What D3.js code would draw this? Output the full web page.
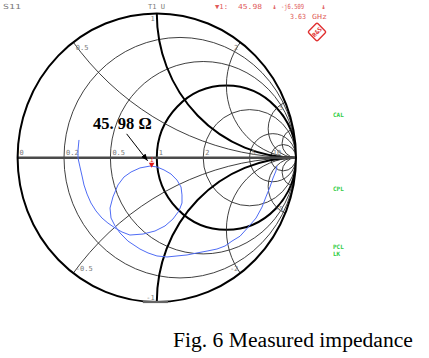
<!DOCTYPE html>
<html>
<head>
<meta charset="utf-8">
<script src="https://cdn.jsdelivr.net/npm/d3@7"></script>
<style>
  body { margin: 0; background: #fff; }
  svg { display: block; }
  .mono { font-family: "DejaVu Sans Mono", "Liberation Mono", monospace; }
  .serif { font-family: "Liberation Serif", "Times New Roman", serif; }
</style>
</head>
<body>
<div id="chart"></div>
<script>
(function() {

  // grid values
  var gridR = [0.2, 0.5, 1, 2, 5, 10];
  var gridX = [0.5, 1, 2, 5, 10, -0.5, -1, -2, -5, -10];
  var rLabelVals = [0, 0.2, 0.5, 1, 2, 5, 10];
  var rLabels = ["0", "0.2", "0.5", "1", "2", "5", "10"];
  var xLabelVals = [0.5, 1, 2, 5, -0.5, -1, -2, -5];
  var xLabels = ["0.5", "1", "2", "5", "-0.5", "-1", "-2", "-5"];

  // measured S11 trace (reflection coefficient, re / im)
  var traceRe = [-0.559, -0.566, -0.566, -0.552, -0.537, -0.523, -0.501, -0.473, -0.437, -0.394,
    -0.351, -0.300, -0.250, -0.193, -0.099, -0.013, 0.059, 0.116, 0.159, 0.181,
    0.181, 0.174, 0.145, 0.102, 0.052, 0.001, -0.049, -0.121, -0.185, -0.236,
    -0.279, -0.315, -0.336, -0.329, -0.300, -0.264, -0.207, -0.121, -0.063, 0.001,
    0.073, 0.145, 0.217, 0.289, 0.361, 0.432, 0.490, 0.540, 0.598, 0.655,
    0.713, 0.756, 0.784, 0.813, 0.835, 0.856, 0.863];
  var traceIm = [0.123, 0.053, -0.002, -0.064, -0.127, -0.189, -0.252, -0.314, -0.369, -0.418,
    -0.453, -0.487, -0.515, -0.536, -0.529, -0.508, -0.473, -0.425, -0.369, -0.314,
    -0.258, -0.203, -0.155, -0.113, -0.085, -0.064, -0.058, -0.071, -0.099, -0.134,
    -0.189, -0.272, -0.349, -0.418, -0.473, -0.522, -0.578, -0.633, -0.660, -0.681,
    -0.688, -0.681, -0.674, -0.660, -0.647, -0.633, -0.612, -0.578, -0.544, -0.483,
    -0.418, -0.342, -0.272, -0.203, -0.141, -0.092, -0.058];

  // marker 1
  var z0 = 50;
  var markerR = 45.98;
  var markerX = -6.509;
  var markerFreq = "3.63";
  var annotationLabel = "45. 98 \u03a9";

  // side status labels
  var statusLabels = ["CAL", "CPL", "PCL", "LK"];

  var width = 429, height = 358;

  var svg = d3.select("#chart").append("svg")
      .attr("width", width)
      .attr("height", height);

  var sx = d3.scaleLinear().domain([-1, 1]).range([17.6, 296]);
  var sy = d3.scaleLinear().domain([-1, 1]).range([302, 13.4]);
  var kx = (sx(1) - sx(-1)) / 2, ky = (sy(-1) - sy(1)) / 2;

  function gamma(r, x) {
    var d = (r + 1) * (r + 1) + x * x;
    return [(r * r + x * x - 1) / d, 2 * x / d];
  }

  svg.append("defs").append("clipPath")
      .attr("id", "unit")
    .append("ellipse")
      .attr("cx", sx(0)).attr("cy", sy(0))
      .attr("rx", kx).attr("ry", ky);

  svg.select("defs").append("marker")
      .attr("id", "head")
      .attr("viewBox", "0 0 10 10")
      .attr("refX", 10).attr("refY", 5)
      .attr("markerWidth", 7).attr("markerHeight", 7)
      .attr("orient", "auto")
    .append("path")
      .attr("d", "M0,1 L10,5 L0,9 Z")
      .style("fill", "#000");

  var grid = svg.append("g").attr("clip-path", "url(#unit)");

  // constant resistance circles
  grid.selectAll(".rc")
      .data(gridR)
    .enter().append("ellipse")
      .attr("class", "rc")
      .attr("cx", function(r) { return sx(r / (1 + r)); })
      .attr("cy", sy(0))
      .attr("rx", function(r) { return kx / (1 + r); })
      .attr("ry", function(r) { return ky / (1 + r); })
      .style("fill", "none")
      .style("stroke", function(r) { return r === 1 ? "#000" : "#2a2a2a"; })
      .style("stroke-width", function(r) { return r === 1 ? 2 : 0.9; });

  // constant reactance arcs
  grid.selectAll(".xc")
      .data(gridX)
    .enter().append("ellipse")
      .attr("class", "xc")
      .attr("cx", sx(1))
      .attr("cy", function(x) { return sy(1 / x); })
      .attr("rx", function(x) { return kx / Math.abs(x); })
      .attr("ry", function(x) { return ky / Math.abs(x); })
      .style("fill", "none")
      .style("stroke", function(x) { return Math.abs(x) === 1 ? "#000" : "#2a2a2a"; })
      .style("stroke-width", function(x) { return Math.abs(x) === 1 ? 2 : 0.9; });

  // real axis
  svg.append("line")
      .attr("x1", sx(-1)).attr("x2", sx(1))
      .attr("y1", sy(0)).attr("y2", sy(0))
      .style("stroke", "#4a4a4a")
      .style("stroke-width", 2.5);

  // outer circle
  svg.append("ellipse")
      .attr("cx", sx(0)).attr("cy", sy(0))
      .attr("rx", kx).attr("ry", ky)
      .style("fill", "none")
      .style("stroke", "#000")
      .style("stroke-width", 2);

  // grey bar at the bottom of the outer circle
  svg.append("line")
      .attr("x1", sx(-0.1)).attr("x2", sx(0.08))
      .attr("y1", sy(-1)).attr("y2", sy(-1))
      .style("stroke", "#666")
      .style("stroke-width", 2.2);

  // grid labels
  svg.selectAll(".rl")
      .data(rLabelVals)
    .enter().append("text")
      .attr("class", "rl mono")
      .attr("x", function(r) { return sx((r - 1) / (r + 1)) + 2; })
      .attr("y", sy(0) - 2.5)
      .text(function(d, i) { return rLabels[i]; })
      .style("fill", "#7a7a7a")
      .style("font-size", "7px");

  svg.selectAll(".xl")
      .data(xLabelVals)
    .enter().append("text")
      .attr("class", "xl mono")
      .attr("x", function(x) { return sx(gamma(0, x)[0]) + (Math.abs(x) < 1 ? 2.5 : -2); })
      .attr("y", function(x) { return sy(gamma(0, x)[1]) + (x > 0 ? 8 : -2.5); })
      .attr("text-anchor", function(x) { return Math.abs(x) < 1 ? "start" : "end"; })
      .text(function(d, i) { return xLabels[i]; })
      .style("fill", "#7a7a7a")
      .style("font-size", "7px");

  // trace
  var line = d3.line()
      .x(function(d, i) { return sx(traceRe[i]); })
      .y(function(d, i) { return sy(traceIm[i]); });

  svg.append("path")
      .attr("d", line(traceRe))
      .style("fill", "none")
      .style("stroke", "#4f6cf5")
      .style("stroke-width", 1);

  // marker 1
  var mg = gamma(markerR / z0, markerX / z0);
  var mx = sx(mg[0]), my = sy(mg[1]);

  svg.append("path")
      .attr("d", "M" + (mx - 2.8) + "," + (my - 5) + " L" + (mx + 2.8) + "," + (my - 5) + " L" + mx + "," + my + " Z")
      .style("fill", "#e01818");
  svg.append("text")
      .attr("class", "mono")
      .attr("x", mx).attr("y", my - 5.5)
      .attr("text-anchor", "middle")
      .text("1")
      .style("fill", "#e02020")
      .style("font-size", "6.5px");

  // annotation
  svg.append("line")
      .attr("x1", mx - 25).attr("y1", my - 34)
      .attr("x2", mx - 4).attr("y2", my - 7)
      .attr("marker-end", "url(#head)")
      .style("stroke", "#000")
      .style("stroke-width", 1);

  svg.append("text")
      .attr("class", "serif")
      .attr("x", 93).attr("y", 129)
      .text(annotationLabel)
      .style("font-weight", "bold")
      .style("font-size", "16.5px")
      .style("fill", "#000");

  // instrument header
  var gray = "#7a7a7a", red = "#e05a5a";
  svg.append("text").attr("class", "mono")
      .attr("x", 3).attr("y", 8.5)
      .attr("textLength", 18)
      .attr("lengthAdjust", "spacingAndGlyphs")
      .text("S11").style("fill", gray).style("font-size", "7px");
  svg.append("text").attr("class", "mono")
      .attr("x", 148).attr("y", 8.5)
      .attr("textLength", 17)
      .attr("lengthAdjust", "spacingAndGlyphs")
      .text("T1 U").style("fill", gray).style("font-size", "7px");

  var hdr = [
    { x: 215, w: 13, t: "\u25bc1:" },
    { x: 238, w: 24, t: d3.format(".2f")(markerR) },
    { x: 272, w: 5, t: "\u2193" },
    { x: 281, w: 23, t: "-j" + d3.format(".3f")(Math.abs(markerX)) },
    { x: 321, w: 5, t: "\u2193" },
    { x: 290, w: 16, t: markerFreq, y: 19 },
    { x: 312, w: 15, t: "GHz", y: 19 }
  ];
  svg.selectAll(".hdr")
      .data(hdr)
    .enter().append("text")
      .attr("class", "hdr mono")
      .attr("x", function(d) { return d.x; })
      .attr("y", function(d) { return d.y || 8.5; })
      .attr("textLength", function(d) { return d.w; })
      .attr("lengthAdjust", "spacingAndGlyphs")
      .text(function(d) { return d.t; })
      .style("fill", red)
      .style("font-weight", function(d) { return d.t === "\u2193" ? "bold" : "normal"; })
      .style("font-size", "7px");

  // R&S logo
  var logo = svg.append("g").attr("transform", "translate(317,32) rotate(-45)");
  logo.append("rect")
      .attr("x", -6.5).attr("y", -6.5)
      .attr("width", 13).attr("height", 13)
      .attr("rx", 1.5)
      .style("fill", "#fff")
      .style("stroke", "#e03030")
      .style("stroke-width", 1.4);
  logo.append("text")
      .attr("class", "mono")
      .attr("x", 0).attr("y", 2.2)
      .attr("text-anchor", "middle")
      .text("R&S")
      .style("fill", "#e03030")
      .style("font-weight", "bold")
      .style("font-size", "6px");

  // status labels
  var statusY = [117, 191, 249, 256];
  svg.selectAll(".st")
      .data(statusLabels)
    .enter().append("text")
      .attr("class", "st mono")
      .attr("x", 333)
      .attr("y", function(d, i) { return statusY[i]; })
      .text(function(d) { return d; })
      .style("fill", "#2ecc40")
      .style("font-weight", "bold")
      .style("font-size", "6px");

  // caption
  svg.append("text")
      .attr("class", "serif")
      .attr("x", 173).attr("y", 347)
      .text("Fig. 6 Measured impedance")
      .style("font-size", "21.6px")
      .style("fill", "#000");

})();
</script>
</body>
</html>
